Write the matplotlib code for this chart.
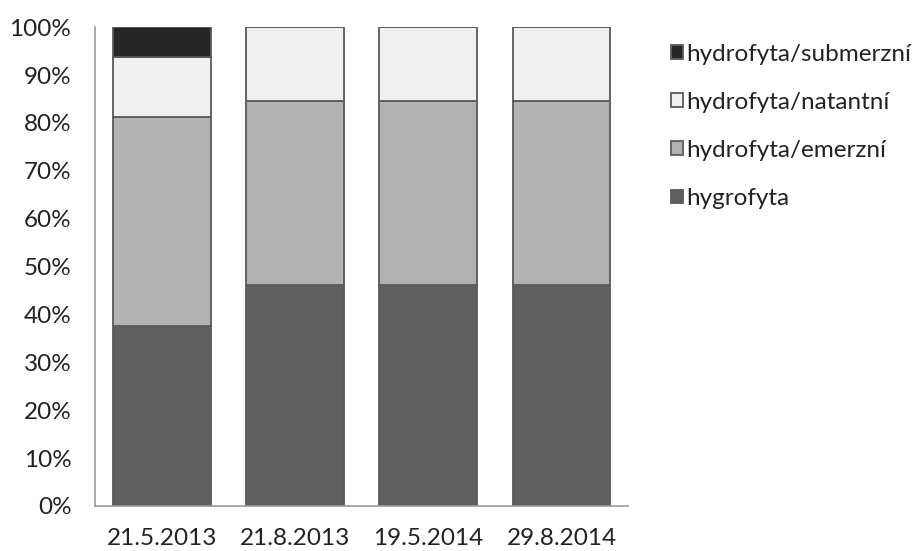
import numpy as np
import matplotlib.pyplot as plt
from matplotlib.ticker import PercentFormatter

plt.rcParams['font.family'] = ['Lato', 'DejaVu Sans']

dates = ['21.5.2013', '21.8.2013', '19.5.2014', '29.8.2014']
hygrofyta = [37.5, 46.15, 46.15, 46.15]
emerzni = [43.75, 38.46, 38.46, 38.46]
natantni = [12.5, 15.39, 15.39, 15.39]
submerzni = [6.25, 0, 0, 0]

series = [
    ('hygrofyta', hygrofyta, '#5f5f5f'),
    ('hydrofyta/emerzní', emerzni, '#b3b3b3'),
    ('hydrofyta/natantní', natantni, '#f0f0f0'),
    ('hydrofyta/submerzní', submerzni, '#262626'),
]

fig = plt.figure(figsize=(9.24, 5.51), dpi=100)
ax = fig.add_axes([0.1028, 0.0817, 0.577, 0.869])

x = np.arange(len(dates))
bottom = np.zeros(len(dates))
handles = []
for name, vals, col in series:
    vals = np.array(vals)
    b = ax.bar(x, vals, 0.735, bottom=bottom, color=col,
               edgecolor='#5a5a5a', linewidth=1.3, label=name)
    handles.append(b)
    bottom += vals

ax.set_xlim(-0.5, len(dates) - 0.5)
ax.set_ylim(0, 100)
ax.set_yticks(np.arange(0, 101, 10))
ax.yaxis.set_major_formatter(PercentFormatter(decimals=0))
ax.set_xticks(x)
ax.set_xticklabels(dates)
ax.tick_params(length=0, labelsize=17.5, colors='#222222')
ax.tick_params(axis='y', pad=17)
ax.tick_params(axis='x', pad=16)
for side in ['top', 'right']:
    ax.spines[side].set_visible(False)
for side in ['left', 'bottom']:
    ax.spines[side].set_color('#9a9a9a')
    ax.spines[side].set_linewidth(1.2)

leg = fig.legend(handles[::-1], [s[0] for s in series][::-1],
                 loc='upper left', bbox_to_anchor=(0.726, 0.921),
                 frameon=False, fontsize=17.5, handlelength=0.5,
                 handleheight=0.5, handletextpad=0.15, labelspacing=1.12,
                 borderpad=0, borderaxespad=0)
for t in leg.get_texts():
    t.set_color('#222222')

fig.savefig('out.png', dpi=100)
